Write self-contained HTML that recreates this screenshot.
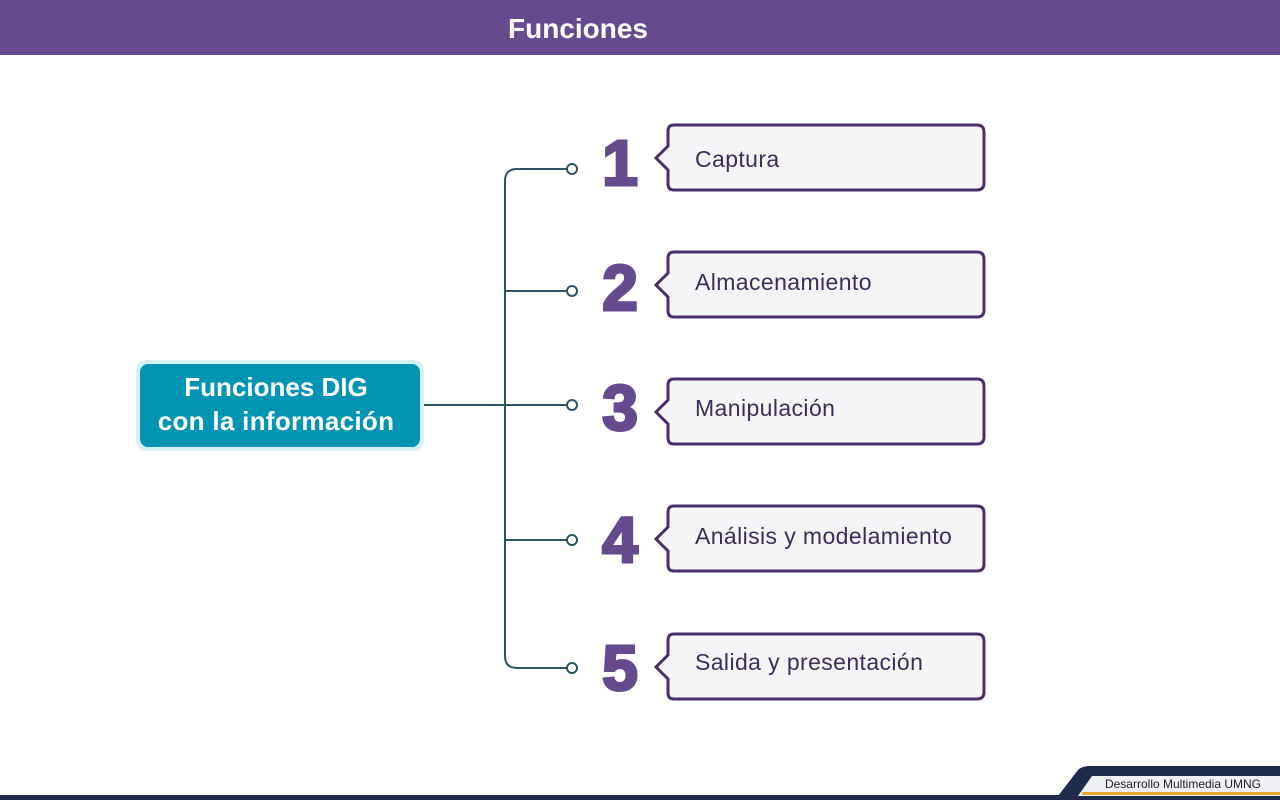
<!DOCTYPE html>
<html><head><meta charset="utf-8"><style>
html,body{margin:0;padding:0;background:#fff;}
svg{display:block}
</style></head><body>
<svg width="1280" height="800" viewBox="0 0 1280 800" xmlns="http://www.w3.org/2000/svg" font-family="Liberation Sans, sans-serif">
<rect x="0" y="0" width="1280" height="55" fill="#654a8e"/>
<text x="578" y="38" text-anchor="middle" font-size="28" font-weight="bold" fill="#fff">Funciones</text>

<g stroke="#2f5360" stroke-width="2" fill="none">
<path d="M566 169 H517 Q505 169 505 181 V656 Q505 668 517 668 H566"/>
<path d="M505 291 H566"/>
<path d="M420 405 H566"/>
<path d="M505 540 H566"/>
</g>
<g stroke="#2f5360" stroke-width="2" fill="#fff">
<circle cx="572" cy="169" r="5"/><circle cx="572" cy="291" r="5"/><circle cx="572" cy="405" r="5"/><circle cx="572" cy="540" r="5"/><circle cx="572" cy="668" r="5"/>
</g>

<rect x="136" y="360" width="288" height="91" rx="10" fill="#d8f1f7"/>
<rect x="140" y="364" width="280" height="83" rx="8" fill="#0294b3"/>
<text x="276" y="396" text-anchor="middle" font-size="26" font-weight="bold" fill="#fff">Funciones DIG</text>
<text x="276" y="430" text-anchor="middle" font-size="26" font-weight="bold" fill="#fff" letter-spacing="0.3">con la información</text>

<g font-size="64" font-weight="bold" fill="#654a8e" stroke="#654a8e" stroke-width="3" text-anchor="middle">
<text x="620" y="185">1</text><text x="620" y="310">2</text><text x="620" y="430">3</text><text x="620" y="562">4</text><text x="620" y="690">5</text>
</g>

<g stroke="#4a2f6a" stroke-width="3" fill="#f5f5f8">
<path d="M674 125 H977 Q984 125 984 132 V183 Q984 190 977 190 H674 Q668 190 668 184 V170 L656 158 L668 146 V131 Q668 125 674 125 Z"/>
<path d="M674 252 H977 Q984 252 984 259 V310 Q984 317 977 317 H674 Q668 317 668 311 V297 L656 285 L668 273 V258 Q668 252 674 252 Z"/>
<path d="M674 379 H977 Q984 379 984 386 V437 Q984 444 977 444 H674 Q668 444 668 438 V424 L656 412 L668 400 V385 Q668 379 674 379 Z"/>
<path d="M674 506 H977 Q984 506 984 513 V564 Q984 571 977 571 H674 Q668 571 668 565 V551 L656 539 L668 527 V512 Q668 506 674 506 Z"/>
<path d="M674 634 H977 Q984 634 984 641 V692 Q984 699 977 699 H674 Q668 699 668 693 V679 L656 667 L668 655 V640 Q668 634 674 634 Z"/>
</g>
<g font-size="23" fill="#3d2d5a" letter-spacing="0.4">
<text x="695" y="167">Captura</text>
<text x="695" y="290">Almacenamiento</text>
<text x="695" y="416">Manipulación</text>
<text x="695" y="544">Análisis y modelamiento</text>
<text x="695" y="670">Salida y presentación</text>
</g>

<rect x="0" y="795" width="1280" height="5" fill="#1f2b4a"/>
<path d="M1058 796 L1078 770 Q1082 766 1090 766 H1280 V796 Z" fill="#1f2b4a"/>
<path d="M1078 796 L1092 776 H1280 V796 Z" fill="#eef0f3"/>
<rect x="1082" y="792" width="198" height="3" fill="#e8a92a"/>
<text x="1183" y="788" text-anchor="middle" font-size="12" fill="#222">Desarrollo Multimedia UMNG</text>
</svg>
</body></html>
